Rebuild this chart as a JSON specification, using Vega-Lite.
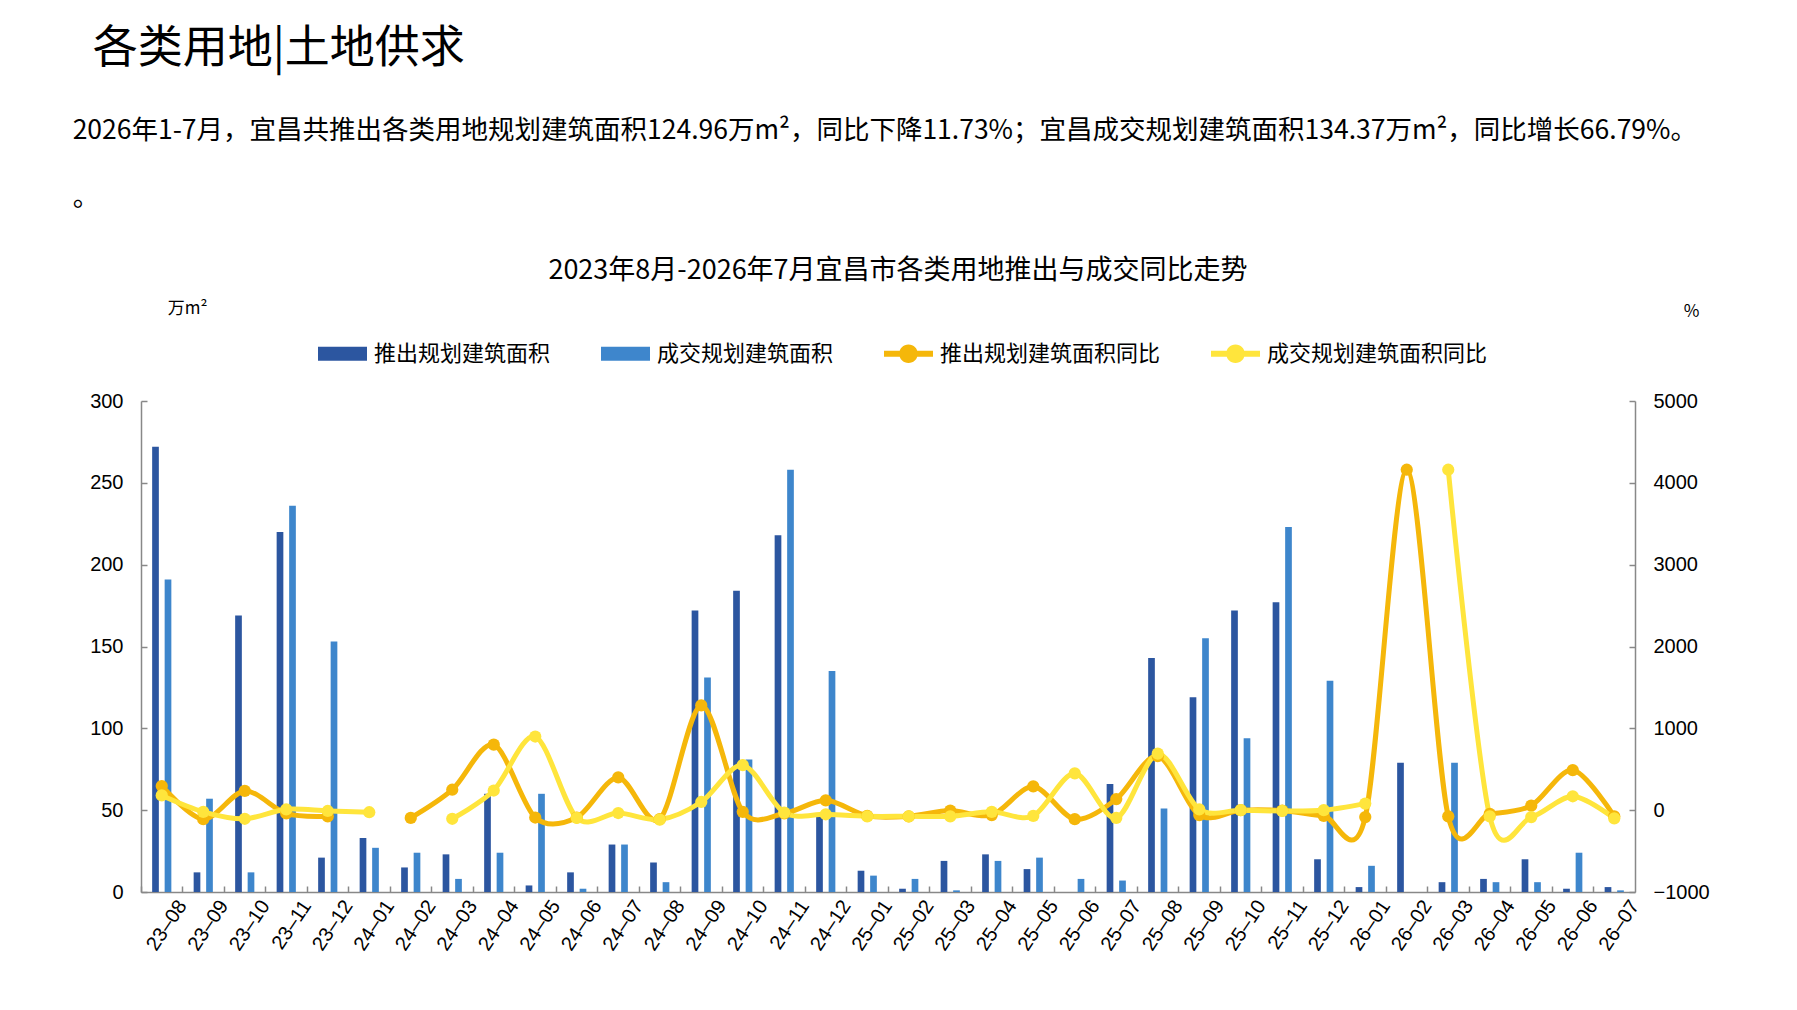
{
  "$schema": "https://vega.github.io/schema/vega-lite/v6.json",
  "background": "white",
  "padding": {"left": 72, "top": 27, "right": 10, "bottom": 5},
  "title": {
    "text": "各类用地|土地供求",
    "anchor": "start",
    "frame": "bounds",
    "dx": 20,
    "font": "Noto Sans CJK SC",
    "fontSize": 45,
    "fontWeight": "normal",
    "color": "#000000",
    "offset": 46
  },
  "datasets": {
    "rows": [
      {"月份": "23-08", "推出规划建筑面积": 272, "成交规划建筑面积": 191, "推出规划建筑面积同比": 295, "成交规划建筑面积同比": 180},
      {"月份": "23-09", "推出规划建筑面积": 12, "成交规划建筑面积": 57, "推出规划建筑面积同比": -110, "成交规划建筑面积同比": -20},
      {"月份": "23-10", "推出规划建筑面积": 169, "成交规划建筑面积": 12, "推出规划建筑面积同比": 235, "成交规划建筑面积同比": -105},
      {"月份": "23-11", "推出规划建筑面积": 220, "成交规划建筑面积": 236, "推出规划建筑面积同比": -40, "成交规划建筑面积同比": 10},
      {"月份": "23-12", "推出规划建筑面积": 21, "成交规划建筑面积": 153, "推出规划建筑面积同比": -75, "成交规划建筑面积同比": -10},
      {"月份": "24-01", "推出规划建筑面积": 33, "成交规划建筑面积": 27, "推出规划建筑面积同比": null, "成交规划建筑面积同比": -25},
      {"月份": "24-02", "推出规划建筑面积": 15, "成交规划建筑面积": 24, "推出规划建筑面积同比": -95, "成交规划建筑面积同比": null},
      {"月份": "24-03", "推出规划建筑面积": 23, "成交规划建筑面积": 8, "推出规划建筑面积同比": 250, "成交规划建筑面积同比": -105},
      {"月份": "24-04", "推出规划建筑面积": 60, "成交规划建筑面积": 24, "推出规划建筑面积同比": 800, "成交规划建筑面积同比": 240},
      {"月份": "24-05", "推出规划建筑面积": 4, "成交规划建筑面积": 60, "推出规划建筑面积同比": -90, "成交规划建筑面积同比": 900},
      {"月份": "24-06", "推出规划建筑面积": 12, "成交规划建筑面积": 2, "推出规划建筑面积同比": -90, "成交规划建筑面积同比": -95},
      {"月份": "24-07", "推出规划建筑面积": 29, "成交规划建筑面积": 29, "推出规划建筑面积同比": 400, "成交规划建筑面积同比": -35},
      {"月份": "24-08", "推出规划建筑面积": 18, "成交规划建筑面积": 6, "推出规划建筑面积同比": -110, "成交规划建筑面积同比": -115},
      {"月份": "24-09", "推出规划建筑面积": 172, "成交规划建筑面积": 131, "推出规划建筑面积同比": 1280, "成交规划建筑面积同比": 100},
      {"月份": "24-10", "推出规划建筑面积": 184, "成交规划建筑面积": 81, "推出规划建筑面积同比": -20, "成交规划建筑面积同比": 550},
      {"月份": "24-11", "推出规划建筑面积": 218, "成交规划建筑面积": 258, "推出规划建筑面积同比": -40, "成交规划建筑面积同比": -30},
      {"月份": "24-12", "推出规划建筑面积": 48, "成交规划建筑面积": 135, "推出规划建筑面积同比": 120, "成交规划建筑面积同比": -50},
      {"月份": "25-01", "推出规划建筑面积": 13, "成交规划建筑面积": 10, "推出规划建筑面积同比": -70, "成交规划建筑面积同比": -75},
      {"月份": "25-02", "推出规划建筑面积": 2, "成交规划建筑面积": 8, "推出规划建筑面积同比": -75, "成交规划建筑面积同比": -75},
      {"月份": "25-03", "推出规划建筑面积": 19, "成交规划建筑面积": 1, "推出规划建筑面积同比": -5, "成交规划建筑面积同比": -75},
      {"月份": "25-04", "推出规划建筑面积": 23, "成交规划建筑面积": 19, "推出规划建筑面积同比": -60, "成交规划建筑面积同比": -20},
      {"月份": "25-05", "推出规划建筑面积": 14, "成交规划建筑面积": 21, "推出规划建筑面积同比": 290, "成交规划建筑面积同比": -70},
      {"月份": "25-06", "推出规划建筑面积": 0, "成交规划建筑面积": 8, "推出规划建筑面积同比": -110, "成交规划建筑面积同比": 450},
      {"月份": "25-07", "推出规划建筑面积": 66, "成交规划建筑面积": 7, "推出规划建筑面积同比": 135, "成交规划建筑面积同比": -95},
      {"月份": "25-08", "推出规划建筑面积": 143, "成交规划建筑面积": 51, "推出规划建筑面积同比": 660, "成交规划建筑面积同比": 690},
      {"月份": "25-09", "推出规划建筑面积": 119, "成交规划建筑面积": 155, "推出规划建筑面积同比": -60, "成交规划建筑面积同比": 10},
      {"月份": "25-10", "推出规划建筑面积": 172, "成交规划建筑面积": 94, "推出规划建筑面积同比": 0, "成交规划建筑面积同比": 0},
      {"月份": "25-11", "推出规划建筑面积": 177, "成交规划建筑面积": 223, "推出规划建筑面积同比": -5, "成交规划建筑面积同比": -10},
      {"月份": "25-12", "推出规划建筑面积": 20, "成交规划建筑面积": 129, "推出规划建筑面积同比": -70, "成交规划建筑面积同比": 0},
      {"月份": "26-01", "推出规划建筑面积": 3, "成交规划建筑面积": 16, "推出规划建筑面积同比": -85, "成交规划建筑面积同比": 80},
      {"月份": "26-02", "推出规划建筑面积": 79, "成交规划建筑面积": 0, "推出规划建筑面积同比": 4160, "成交规划建筑面积同比": null},
      {"月份": "26-03", "推出规划建筑面积": 6, "成交规划建筑面积": 79, "推出规划建筑面积同比": -75, "成交规划建筑面积同比": 4160},
      {"月份": "26-04", "推出规划建筑面积": 8, "成交规划建筑面积": 6, "推出规划建筑面积同比": -45, "成交规划建筑面积同比": -75},
      {"月份": "26-05", "推出规划建筑面积": 20, "成交规划建筑面积": 6, "推出规划建筑面积同比": 55, "成交规划建筑面积同比": -85},
      {"月份": "26-06", "推出规划建筑面积": 2, "成交规划建筑面积": 24, "推出规划建筑面积同比": 490, "成交规划建筑面积同比": 170},
      {"月份": "26-07", "推出规划建筑面积": 3, "成交规划建筑面积": 1, "推出规划建筑面积同比": -75, "成交规划建筑面积同比": -100}
    ]
  },
  "vconcat": [
    {
      "title": {
        "text": "2026年1-7月，宜昌共推出各类用地规划建筑面积124.96万m²，同比下降11.73%；宜昌成交规划建筑面积134.37万m²，同比增长66.79%。",
        "subtitle": "。",
        "anchor": "start",
        "frame": "bounds",
        "dx": -17,
        "font": "Noto Sans CJK SC",
        "fontSize": 26.5,
        "fontWeight": "normal",
        "color": "#000000",
        "subtitleFont": "Noto Sans CJK SC",
        "subtitleFontSize": 26.5,
        "subtitleColor": "#000000",
        "subtitlePadding": 40,
        "offset": 46
      },
      "vconcat": [
        {
          "title": {
            "text": "2023年8月-2026年7月宜昌市各类用地推出与成交同比走势",
            "anchor": "middle",
            "frame": "group",
            "dx": 10,
            "font": "Noto Sans CJK SC",
            "fontSize": 27,
            "fontWeight": "normal",
            "color": "#000000",
            "offset": 14
          },
          "width": 1494,
          "height": 491,
          "data": {"name": "rows"},
          "encoding": {
            "x": {
              "field": "月份",
              "type": "nominal",
              "sort": null,
              "scale": {"paddingInner": 0, "paddingOuter": 0},
              "axis": {
                "title": null,
                "bandPosition": 0,
                "labelOffset": 20.75,
                "labelAngle": -56,
                "labelAlign": "right",
                "labelBaseline": "middle",
                "labelFont": "Liberation Sans",
                "labelFontSize": 20,
                "labelColor": "#000000",
                "labelPadding": 16,
                "labelOverlap": false,
                "labelExpr": "replace(datum.label, '-', '–')",
                "tickSize": -6,
                "tickColor": "#888888",
                "tickWidth": 1.5,
                "domainColor": "#888888",
                "domainWidth": 1.5
              }
            }
          },
          "layer": [
            {
              "transform": [{"fold": ["推出规划建筑面积", "成交规划建筑面积"], "as": ["系列", "面积"]}],
              "mark": {"type": "bar"},
              "encoding": {
                "xOffset": {
                  "field": "系列",
                  "type": "nominal",
                  "scale": {"domain": ["推出规划建筑面积", "成交规划建筑面积"], "paddingInner": 0.464, "paddingOuter": 0.892}
                },
                "y": {
                  "field": "面积",
                  "type": "quantitative",
                  "scale": {"domain": [0, 300], "nice": false},
                  "axis": {
                    "values": [0, 50, 100, 150, 200, 250, 300],
                    "grid": false,
                    "title": "万m²",
                    "titleAngle": 0,
                    "titleX": 46,
                    "titleY": -93,
                    "titleAlign": "center",
                    "titleBaseline": "middle",
                    "titleFont": "Noto Sans CJK SC",
                    "titleFontSize": 17,
                    "titleFontWeight": "normal",
                    "titleColor": "#000000",
                    "labelFont": "Liberation Sans",
                    "labelFontSize": 20,
                    "labelColor": "#000000",
                    "labelPadding": 24,
                    "tickSize": -6,
                    "tickColor": "#888888",
                    "tickWidth": 1.5,
                    "domainColor": "#888888",
                    "domainWidth": 1.5
                  }
                },
                "color": {
                  "field": "系列",
                  "type": "nominal",
                  "scale": {
                    "domain": ["推出规划建筑面积", "成交规划建筑面积", "推出规划建筑面积同比", "成交规划建筑面积同比"],
                    "range": ["#2C56A0", "#3E86CC", "#F5B70A", "#FFE53C"]
                  },
                  "legend": {
                    "orient": "none",
                    "legendX": 177,
                    "legendY": -72,
                    "direction": "horizontal",
                    "title": null,
                    "symbolSize": 2401,
                    "symbolStrokeWidth": 0,
                    "labelFont": "Noto Sans CJK SC",
                    "labelFontSize": 22,
                    "labelColor": "#000000",
                    "labelOffset": 7,
                    "columnPadding": 50,
                    "labelLimit": 400,
                    "encode": {
                      "symbols": {
                        "update": {
                          "shape": {"signal": "indexof(['推出规划建筑面积','成交规划建筑面积'], datum.value) >= 0 ? 'M-1,-0.29H1V0.29H-1Z' : 'M-1,-0.12H1V0.12H-1Z M-0.38,0A0.38,0.38 0 1,1 0.38,0A0.38,0.38 0 1,1 -0.38,0Z'"},
                          "fill": {"signal": "scale('color', datum.value)"},
                          "stroke": {"value": "transparent"},
                          "opacity": {"value": 1}
                        }
                      }
                    }
                  }
                }
              }
            },
            {
              "transform": [{"fold": ["推出规划建筑面积同比", "成交规划建筑面积同比"], "as": ["系列", "同比"]}],
              "mark": {
                "type": "line",
                "interpolate": "cardinal",
                "tension": 0.1,
                "strokeWidth": 5,
                "invalid": "break-paths-filter-domains",
                "point": {"filled": true, "size": 150, "opacity": 1}
              },
              "encoding": {
                "y": {
                  "field": "同比",
                  "type": "quantitative",
                  "scale": {"domain": [-1000, 5000], "nice": false},
                  "axis": {
                    "orient": "right",
                    "values": [-1000, 0, 1000, 2000, 3000, 4000, 5000],
                    "format": "d",
                    "grid": false,
                    "title": "%",
                    "titleAngle": 0,
                    "titleX": 56,
                    "titleY": -90,
                    "titleAlign": "center",
                    "titleBaseline": "middle",
                    "titleFont": "Noto Sans CJK SC",
                    "titleFontSize": 17,
                    "titleFontWeight": "normal",
                    "titleColor": "#000000",
                    "labelFont": "Liberation Sans",
                    "labelFontSize": 20,
                    "labelColor": "#000000",
                    "labelPadding": 24,
                    "tickSize": -6,
                    "tickColor": "#888888",
                    "tickWidth": 1.5,
                    "domainColor": "#888888",
                    "domainWidth": 1.5
                  }
                },
                "color": {"field": "系列", "type": "nominal", "legend": null}
              }
            }
          ],
          "resolve": {"scale": {"y": "independent"}}
        }
      ]
    }
  ],
  "config": {
    "view": {"stroke": null},
    "font": "Noto Sans CJK SC"
  }
}
